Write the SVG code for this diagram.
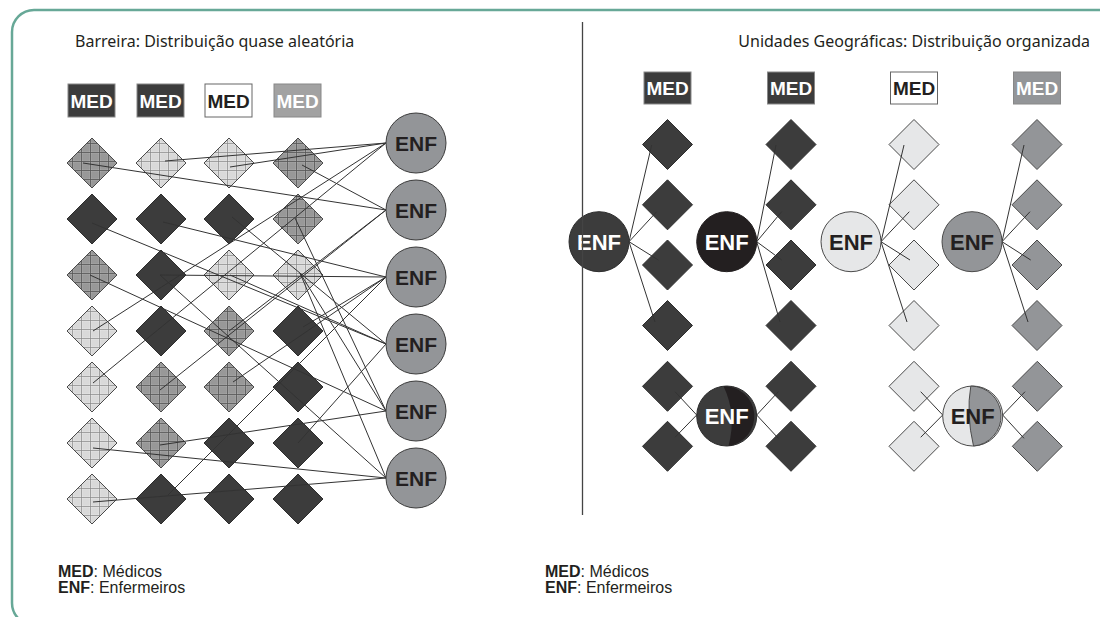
<svg xmlns="http://www.w3.org/2000/svg" xmlns:xlink="http://www.w3.org/1999/xlink" width="1100" height="617" viewBox="0 0 1100 617">
<defs>
<style>
.title{font-family:"Noto Sans","Open Sans","Liberation Sans",sans-serif;font-size:16px;fill:#231f20}
.med{font-family:"Liberation Sans",Arial,sans-serif;font-weight:bold;font-size:19px;text-anchor:middle}
.enf{font-family:"Liberation Sans",Arial,sans-serif;font-weight:bold;text-anchor:middle}
.leg{font-family:"Liberation Sans",Arial,sans-serif;font-size:16px;fill:#231f20}
.dk{fill:#3c3c3c;stroke:#2e2e2e;stroke-width:1}
.pl{fill:url(#plaidL);stroke:#4a4a4a;stroke-width:1}
.pd{fill:url(#plaidD);stroke:#4a4a4a;stroke-width:1}
.lt{fill:#e6e7e8;stroke:#4a4a4a;stroke-width:1}
.gr{fill:#939598;stroke:#4a4a4a;stroke-width:1}
.conn line{stroke:#333;stroke-width:1}
</style>
<path id="dia" d="M0,-25 L25,0 L0,25 L-25,0Z"/>
<pattern id="plaidL" width="9" height="9" patternUnits="userSpaceOnUse">
<rect width="9" height="9" fill="#e4e4e4"/>
<path d="M0,1H9M0,3H9M0,5H9M1,0V9M3,0V9M5,0V9" stroke="#cdcdcd" stroke-width="0.5"/>
<path d="M0,7.5H9M7.5,0V9" stroke="#858585" stroke-width="0.7"/>
</pattern>
<pattern id="plaidD" width="9" height="9" patternUnits="userSpaceOnUse">
<rect width="9" height="9" fill="#a8a8a8"/>
<path d="M0,1H9M0,3H9M0,5H9M1,0V9M3,0V9M5,0V9" stroke="#828282" stroke-width="0.5"/>
<path d="M0,7.5H9M7.5,0V9" stroke="#555" stroke-width="0.8"/>
</pattern>
</defs>
<rect width="1100" height="617" fill="#fff"/>
<path d="M1102,10 H34 A22,22 0 0 0 12,32 V603 A22,22 0 0 0 34,625" fill="none" stroke="#67a897" stroke-width="2.5"/>

<g id="titles">
<text class="title" x="75" y="47">Barreira: Distribuição quase aleatória</text>
<text class="title" x="1090" y="47" text-anchor="end">Unidades Geográficas: Distribuição organizada</text>
</g>

<!-- Left MED boxes -->
<g id="med-l1"><rect x="68" y="84" width="47" height="33" fill="#3c3c3c" stroke="#888"/><text class="med" x="91.5" y="107.5" fill="#fff">MED</text></g>
<g id="med-l2"><rect x="137" y="84" width="47" height="33" fill="#3c3c3c" stroke="#888"/><text class="med" x="160.5" y="107.5" fill="#fff">MED</text></g>
<g id="med-l3"><rect x="205" y="84" width="47" height="33" fill="#fff" stroke="#666"/><text class="med" x="228.5" y="107.5" fill="#231f20">MED</text></g>
<g id="med-l4"><rect x="274" y="84" width="47" height="33" fill="#a2a2a2" stroke="#888"/><text class="med" x="297.5" y="107.5" fill="#fff">MED</text></g>

<!-- Left diamonds -->
<g id="left-diamonds">
<g id="d-1-1"><use xlink:href="#dia" href="#dia" x="92" y="163" class="pd"/></g>
<g id="d-2-1"><use xlink:href="#dia" href="#dia" x="161" y="163" class="pl"/></g>
<g id="d-3-1"><use xlink:href="#dia" href="#dia" x="229" y="163" class="pl"/></g>
<g id="d-4-1"><use xlink:href="#dia" href="#dia" x="298" y="163" class="pd"/></g>
<g id="d-1-2"><use xlink:href="#dia" href="#dia" x="92" y="219" class="dk"/></g>
<g id="d-2-2"><use xlink:href="#dia" href="#dia" x="161" y="219" class="dk"/></g>
<g id="d-3-2"><use xlink:href="#dia" href="#dia" x="229" y="219" class="dk"/></g>
<g id="d-4-2"><use xlink:href="#dia" href="#dia" x="298" y="219" class="pd"/></g>
<g id="d-1-3"><use xlink:href="#dia" href="#dia" x="92" y="275" class="pd"/></g>
<g id="d-2-3"><use xlink:href="#dia" href="#dia" x="161" y="275" class="dk"/></g>
<g id="d-3-3"><use xlink:href="#dia" href="#dia" x="229" y="275" class="pl"/></g>
<g id="d-4-3"><use xlink:href="#dia" href="#dia" x="298" y="275" class="pl"/></g>
<g id="d-1-4"><use xlink:href="#dia" href="#dia" x="92" y="331" class="pl"/></g>
<g id="d-2-4"><use xlink:href="#dia" href="#dia" x="161" y="331" class="dk"/></g>
<g id="d-3-4"><use xlink:href="#dia" href="#dia" x="229" y="331" class="pd"/></g>
<g id="d-4-4"><use xlink:href="#dia" href="#dia" x="298" y="331" class="dk"/></g>
<g id="d-1-5"><use xlink:href="#dia" href="#dia" x="92" y="387" class="pl"/></g>
<g id="d-2-5"><use xlink:href="#dia" href="#dia" x="161" y="387" class="pd"/></g>
<g id="d-3-5"><use xlink:href="#dia" href="#dia" x="229" y="387" class="pd"/></g>
<g id="d-4-5"><use xlink:href="#dia" href="#dia" x="298" y="387" class="dk"/></g>
<g id="d-1-6"><use xlink:href="#dia" href="#dia" x="92" y="443" class="pl"/></g>
<g id="d-2-6"><use xlink:href="#dia" href="#dia" x="161" y="443" class="pd"/></g>
<g id="d-3-6"><use xlink:href="#dia" href="#dia" x="229" y="443" class="dk"/></g>
<g id="d-4-6"><use xlink:href="#dia" href="#dia" x="298" y="443" class="dk"/></g>
<g id="d-1-7"><use xlink:href="#dia" href="#dia" x="92" y="499" class="pl"/></g>
<g id="d-2-7"><use xlink:href="#dia" href="#dia" x="161" y="499" class="dk"/></g>
<g id="d-3-7"><use xlink:href="#dia" href="#dia" x="229" y="499" class="dk"/></g>
<g id="d-4-7"><use xlink:href="#dia" href="#dia" x="298" y="499" class="dk"/></g>
</g>

<!-- Right MED boxes -->
<g id="med-r1"><rect x="644" y="72" width="47" height="32" fill="#3c3c3c" stroke="#888"/><text class="med" x="667.5" y="95" fill="#fff">MED</text></g>
<g id="med-r2"><rect x="767.5" y="72" width="47" height="32" fill="#3c3c3c" stroke="#888"/><text class="med" x="791" y="95" fill="#fff">MED</text></g>
<g id="med-r3"><rect x="890.5" y="72" width="47" height="32" fill="#fff" stroke="#666"/><text class="med" x="914" y="95" fill="#231f20">MED</text></g>
<g id="med-r4"><rect x="1013.5" y="72" width="47" height="32" fill="#939598" stroke="#888"/><text class="med" x="1037" y="95" fill="#fff">MED</text></g>

<!-- Right diamonds -->
<g id="right-diamonds">
<g id="r-1-1"><use xlink:href="#dia" href="#dia" x="667.5" y="144.5" class="dk"/></g>
<g id="r-1-2"><use xlink:href="#dia" href="#dia" x="667.5" y="204.8" class="dk"/></g>
<g id="r-1-3"><use xlink:href="#dia" href="#dia" x="667.5" y="265" class="dk"/></g>
<g id="r-1-4"><use xlink:href="#dia" href="#dia" x="667.5" y="325.5" class="dk"/></g>
<g id="r-2-1"><use xlink:href="#dia" href="#dia" x="791" y="144.5" class="dk"/></g>
<g id="r-2-2"><use xlink:href="#dia" href="#dia" x="791" y="204.8" class="dk"/></g>
<g id="r-2-3"><use xlink:href="#dia" href="#dia" x="791" y="265" class="dk"/></g>
<g id="r-2-4"><use xlink:href="#dia" href="#dia" x="791" y="325.5" class="dk"/></g>
<g id="r-3-1"><use xlink:href="#dia" href="#dia" x="914" y="144.5" class="lt"/></g>
<g id="r-3-2"><use xlink:href="#dia" href="#dia" x="914" y="204.8" class="lt"/></g>
<g id="r-3-3"><use xlink:href="#dia" href="#dia" x="914" y="265" class="lt"/></g>
<g id="r-3-4"><use xlink:href="#dia" href="#dia" x="914" y="325.5" class="lt"/></g>
<g id="r-4-1"><use xlink:href="#dia" href="#dia" x="1037" y="144.5" class="gr"/></g>
<g id="r-4-2"><use xlink:href="#dia" href="#dia" x="1037" y="204.8" class="gr"/></g>
<g id="r-4-3"><use xlink:href="#dia" href="#dia" x="1037" y="265" class="gr"/></g>
<g id="r-4-4"><use xlink:href="#dia" href="#dia" x="1037" y="325.5" class="gr"/></g>
<g id="b-1-1"><use xlink:href="#dia" href="#dia" x="667.5" y="386.3" class="dk"/></g>
<g id="b-1-2"><use xlink:href="#dia" href="#dia" x="667.5" y="446.3" class="dk"/></g>
<g id="b-2-1"><use xlink:href="#dia" href="#dia" x="791" y="386.3" class="dk"/></g>
<g id="b-2-2"><use xlink:href="#dia" href="#dia" x="791" y="446.3" class="dk"/></g>
<g id="b-3-1"><use xlink:href="#dia" href="#dia" x="914" y="386.3" class="lt"/></g>
<g id="b-3-2"><use xlink:href="#dia" href="#dia" x="914" y="446.3" class="lt"/></g>
<g id="b-4-1"><use xlink:href="#dia" href="#dia" x="1037.3" y="386.3" class="gr"/></g>
<g id="b-4-2"><use xlink:href="#dia" href="#dia" x="1037.3" y="446.3" class="gr"/></g>
</g>

<!-- Connectors -->
<g id="connectors" class="conn">
<line x1="83" y1="163" x2="386" y2="210"/>
<line x1="165" y1="161" x2="386" y2="143"/>
<line x1="230" y1="167" x2="386" y2="143"/>
<line x1="302" y1="165" x2="386" y2="210"/>
<line x1="92" y1="223" x2="386" y2="344"/>
<line x1="163" y1="222" x2="386" y2="277"/>
<line x1="232" y1="217" x2="386" y2="344"/>
<line x1="295" y1="218" x2="386" y2="411"/>
<line x1="90" y1="275" x2="386" y2="411"/>
<line x1="160" y1="275" x2="386" y2="277"/>
<line x1="160" y1="275" x2="386" y2="478"/>
<line x1="230" y1="275" x2="386" y2="344"/>
<line x1="300" y1="273" x2="386" y2="478"/>
<line x1="300" y1="273" x2="386" y2="411"/>
<line x1="93" y1="331" x2="386" y2="143"/>
<line x1="229" y1="331" x2="386" y2="210"/>
<line x1="303" y1="327" x2="386" y2="277"/>
<line x1="93" y1="383" x2="386" y2="143"/>
<line x1="160" y1="390" x2="386" y2="210"/>
<line x1="233" y1="382" x2="386" y2="277"/>
<line x1="93" y1="448" x2="386" y2="478"/>
<line x1="160" y1="445" x2="386" y2="411"/>
<line x1="298" y1="443" x2="386" y2="344"/>
<line x1="93" y1="502" x2="386" y2="478"/>
<line x1="168" y1="495" x2="386" y2="277"/>

<line x1="629" y1="241.7" x2="651.7" y2="145"/>
<line x1="629" y1="241.7" x2="656.7" y2="211.7"/>
<line x1="629" y1="241.7" x2="658.3" y2="260"/>
<line x1="629" y1="241.7" x2="655" y2="322"/>
<line x1="756.7" y1="241.7" x2="776" y2="145"/>
<line x1="756.7" y1="241.7" x2="781.7" y2="211.7"/>
<line x1="756.7" y1="241.7" x2="781.7" y2="260"/>
<line x1="756.7" y1="241.7" x2="780" y2="322"/>
<line x1="881" y1="241.7" x2="904" y2="145"/>
<line x1="881" y1="241.7" x2="909.3" y2="211.7"/>
<line x1="881" y1="241.7" x2="910" y2="260"/>
<line x1="881" y1="241.7" x2="907" y2="322"/>
<line x1="1002" y1="241.7" x2="1024" y2="145"/>
<line x1="1002" y1="241.7" x2="1030" y2="211.7"/>
<line x1="1002" y1="241.7" x2="1030.7" y2="260"/>
<line x1="1002" y1="241.7" x2="1028" y2="322"/>

<line x1="696.7" y1="415" x2="675" y2="391.7"/>
<line x1="696.7" y1="415" x2="675" y2="437.3"/>
<line x1="756.7" y1="415" x2="778.3" y2="391.7"/>
<line x1="756.7" y1="415" x2="778.3" y2="438.3"/>
<line x1="942.7" y1="415" x2="920.7" y2="391.7"/>
<line x1="942.7" y1="415" x2="920.7" y2="437.3"/>
<line x1="1002.7" y1="415" x2="1025" y2="391.7"/>
<line x1="1002.7" y1="415" x2="1024" y2="438.3"/>
</g>

<!-- Left ENF -->
<g id="enf-l1"><circle cx="416" cy="143" r="30" fill="#939598" stroke="#3c3c3c"/><text class="enf" x="416" y="150.5" font-size="21" fill="#231f20">ENF</text></g>
<g id="enf-l2"><circle cx="416" cy="210" r="30" fill="#939598" stroke="#3c3c3c"/><text class="enf" x="416" y="217.5" font-size="21" fill="#231f20">ENF</text></g>
<g id="enf-l3"><circle cx="416" cy="277" r="30" fill="#939598" stroke="#3c3c3c"/><text class="enf" x="416" y="284.5" font-size="21" fill="#231f20">ENF</text></g>
<g id="enf-l4"><circle cx="416" cy="344" r="30" fill="#939598" stroke="#3c3c3c"/><text class="enf" x="416" y="351.5" font-size="21" fill="#231f20">ENF</text></g>
<g id="enf-l5"><circle cx="416" cy="411" r="30" fill="#939598" stroke="#3c3c3c"/><text class="enf" x="416" y="418.5" font-size="21" fill="#231f20">ENF</text></g>
<g id="enf-l6"><circle cx="416" cy="478" r="30" fill="#939598" stroke="#3c3c3c"/><text class="enf" x="416" y="485.5" font-size="21" fill="#231f20">ENF</text></g>

<!-- Right ENF -->
<g id="enf-r1"><circle cx="599" cy="241.7" r="30" fill="#3c3c3c" stroke="#2e2e2e"/><text class="enf" x="599" y="249.5" font-size="22" fill="#fff">ENF</text></g>
<g id="enf-r2"><circle cx="726.7" cy="241.7" r="30" fill="#231f20" stroke="#231f20"/><text class="enf" x="726.7" y="249.5" font-size="22" fill="#fff">ENF</text></g>
<g id="enf-r3"><circle cx="851" cy="241.7" r="30" fill="#e6e7e8" stroke="#4a4a4a"/><text class="enf" x="851" y="249.5" font-size="22" fill="#231f20">ENF</text></g>
<g id="enf-r4"><circle cx="972" cy="241.7" r="30" fill="#939598" stroke="#4a4a4a"/><text class="enf" x="972" y="249.5" font-size="22" fill="#231f20">ENF</text></g>
<g id="enf-b1">
<circle cx="726.7" cy="416" r="30" fill="#3c3c3c" stroke="#2e2e2e"/>
<path d="M723.5,386.2 Q737,414 728.5,445.9 A30,30 0 0 0 723.5,386.2Z" fill="#231f20"/>
<text class="enf" x="726.7" y="424" font-size="22" fill="#fff">ENF</text>
</g>
<g id="enf-b2">
<circle cx="972.7" cy="416" r="30" fill="#e6e7e8" stroke="#4a4a4a"/>
<path d="M970.8,386.1 Q966,414 973.5,446 A30,30 0 0 0 970.8,386.1Z" fill="#939598" stroke="#4a4a4a" stroke-width="1"/>
<text class="enf" x="972.7" y="424" font-size="22" fill="#231f20">ENF</text>
</g>

<line id="divider" x1="582.5" y1="22" x2="582.5" y2="515" stroke="#444" stroke-width="1.3"/>

<!-- Legends -->
<g id="legend-left">
<text class="leg" x="58" y="577"><tspan font-weight="bold">MED</tspan>: Médicos</text>
<text class="leg" x="58" y="593"><tspan font-weight="bold">ENF</tspan>: Enfermeiros</text>
</g>
<g id="legend-right">
<text class="leg" x="545" y="577"><tspan font-weight="bold">MED</tspan>: Médicos</text>
<text class="leg" x="545" y="593"><tspan font-weight="bold">ENF</tspan>: Enfermeiros</text>
</g>
</svg>
